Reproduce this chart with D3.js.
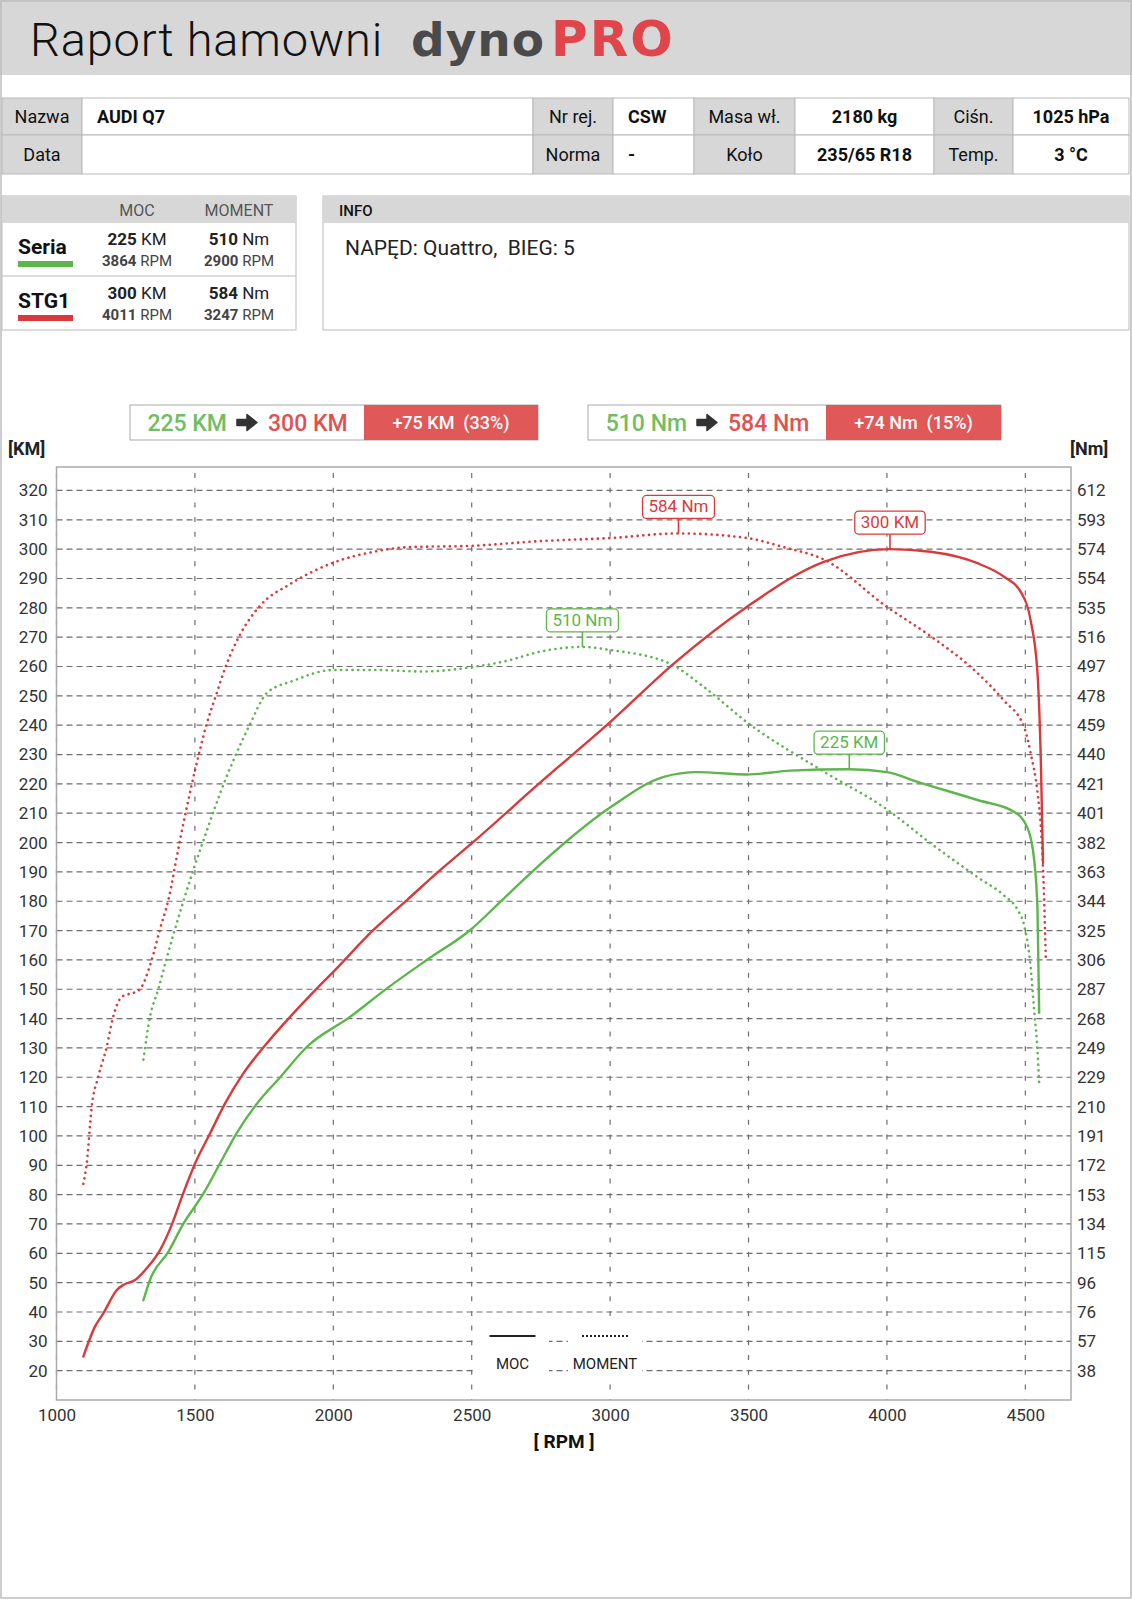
<!DOCTYPE html>
<html>
<head>
<meta charset="utf-8">
<script src="https://cdn.jsdelivr.net/npm/d3@7"></script>
<style>
  body { margin: 0; background: #fff; }
  svg text { font-family: Roboto, "Noto Sans", sans-serif; }
</style>
</head>
<body>
<div id="page"></div>
<script>
// chart values

const rpmTicks = [1000, 1500, 2000, 2500, 3000, 3500, 4000, 4500];
const kmTicks = [20, 30, 40, 50, 60, 70, 80, 90, 100, 110, 120, 130, 140, 150, 160,
  170, 180, 190, 200, 210, 220, 230, 240, 250, 260, 270, 280, 290, 300, 310, 320];
const nmTickLabels = ["38", "57", "76", "96", "115", "134", "153", "172", "191", "210",
  "229", "249", "268", "287", "306", "325", "344", "363", "382", "401", "421", "440",
  "459", "478", "497", "516", "535", "554", "574", "593", "612"];
const NM_PER_KM = 1.9125;

const runNames = ["Seria", "STG1"];
const maxPower = [225, 300];
const maxPowerRpm = [3864, 4011];
const maxTorque = [510, 584];
const maxTorqueRpm = [2900, 3247];

// Seria - moc [KM]
const seriaPowerRpm = [1314, 1338, 1404, 1458, 1531, 1591, 1651, 1724, 1808, 1905, 2061, 2194,
  2338, 2495, 2610, 2712, 3001, 3194, 3315, 3495, 3652, 3864, 4001, 4110, 4327, 4459, 4508,
  4532, 4544, 4550];
const seriaPower = [44, 51, 60.5, 70, 80.4, 90.7, 101, 111, 120, 130.4, 140.6, 150.3,
  160, 170.2, 180.4, 189.5, 212, 222.4, 224, 223.2, 224.5, 225, 224, 220.7, 214.5, 210.5, 205,
  194, 177, 142];
// Seria - moment [Nm]
const seriaTorqueRpm = [1314, 1338, 1368, 1398, 1428, 1458, 1495, 1531, 1609, 1651, 1700, 1760,
  1856, 2001, 2145, 2326, 2507, 2628, 2748, 2900, 3001, 3218, 3338, 3501, 3760, 4001, 4158,
  4327, 4423, 4471, 4495, 4519, 4532, 4544, 4550];
const seriaTorque = [241, 269, 287, 307, 326, 344, 365, 384, 423, 441, 460, 480,
  488, 495, 495, 494, 497, 501, 507, 510, 508, 499, 484, 460, 430, 404, 382,
  360, 348, 339, 329, 302, 273, 247, 225];

// STG1 - moc [KM]
const stg1PowerRpm = [1097, 1139, 1169, 1218, 1241, 1284, 1326, 1374, 1416, 1458, 1501, 1555,
  1609, 1675, 1760, 1844, 1941, 2001, 2145, 2266, 2386, 2507, 2748, 2995, 3230, 3495, 3772,
  4011, 4158, 4327, 4423, 4483, 4519, 4544, 4556, 4564];
const stg1Power = [24.8, 35, 39.5, 47.5, 49.2, 50.9, 54.9, 61.1, 69.6, 80.5, 90.7, 100.9,
  111.1, 121.3, 131.6, 140.6, 150.3, 156, 170.2, 180.4, 190.6, 200.3, 220.5, 240.6, 261, 280.4, 295.7,
  300, 299.1, 295.2, 290.6, 285.5, 275.8, 257.7, 228, 193];
// STG1 - moment [Nm]
const stg1TorqueRpm = [1097, 1109, 1127, 1151, 1181, 1205, 1236, 1284, 1302, 1344, 1374, 1404,
  1446, 1501, 1543, 1579, 1615, 1663, 1736, 1844, 2001, 2145, 2266, 2507, 2748, 3001, 3247,
  3495, 3628, 3772, 4001, 4158, 4327, 4423, 4495, 4519, 4544, 4556, 4568, 4574];
const stg1Torque = [160, 173, 210, 230, 249, 269, 282, 285, 287, 306, 326, 345,
  384, 430, 460, 480, 499, 518, 537, 551, 565, 572, 575, 576, 579, 581, 584,
  581, 575, 567, 536, 517, 493, 475, 458, 441, 415, 393, 345, 306];

const infoLabels1 = ["Nazwa", "Nr rej.", "Masa wł.", "Ciśn."];
const infoValues1 = ["AUDI Q7", "CSW", "2180 kg", "1025 hPa"];
const infoLabels2 = ["Data", "Norma", "Koło", "Temp."];
const infoValues2 = ["", "-", "235/65 R18", "3 °C"];
const infoText = "NAPĘD: Quattro,  BIEG: 5";

// ---------------------------------------------------------------

const W = 1132;
const H = 1600;
const red = "#d83a3c";
const green = "#5cb64c";
const redText = "#df5252";
const greenText = "#72bd63";
const grayFill = "#d7d7d7";
const lineGray = "#b9b9b9";

const svg = d3.select("#page")
    .append("svg")
    .attr("width", W)
    .attr("height", H);

svg.append("rect")
    .attr("x", 0).attr("y", 0)
    .attr("width", W).attr("height", H)
    .attr("fill", "#fff");

// header
svg.append("rect")
    .attr("x", 0).attr("y", 0)
    .attr("width", W).attr("height", 75)
    .attr("fill", grayFill);

svg.append("text")
    .attr("x", 30).attr("y", 56)
    .attr("font-size", 47)
    .attr("font-weight", 300)
    .attr("letter-spacing", 0.8)
    .attr("fill", "#111")
    .text("Raport hamowni");

const logo = svg.append("text")
    .attr("x", 411).attr("y", 56)
    .attr("font-size", 47)
    .attr("font-weight", "bold")
    .style("font-family", "'DejaVu Sans', sans-serif");
logo.append("tspan").attr("fill", "#4a4a4a").attr("letter-spacing", 1).text("dyno");
logo.append("tspan").attr("fill", "#e0454b").attr("dx", 6)
    .attr("font-size", 50).attr("letter-spacing", 2).text("PRO");

// info table
const colEdges = [2, 82, 533, 613, 694, 795, 934, 1013, 1129];
const rowEdges = [98, 135, 174];
const tableRows = [[infoLabels1, infoValues1], [infoLabels2, infoValues2]];

tableRows.forEach(function(row, r) {
  const y0 = rowEdges[r], y1 = rowEdges[r + 1];
  for (let c = 0; c < 8; c++) {
    const isLabel = c % 2 == 0;
    const x0 = colEdges[c], x1 = colEdges[c + 1];
    svg.append("rect")
        .attr("x", x0).attr("y", y0)
        .attr("width", x1 - x0).attr("height", y1 - y0)
        .attr("fill", isLabel ? grayFill : "#fff")
        .attr("stroke", lineGray);
    const txt = isLabel ? row[0][c / 2] : row[1][(c - 1) / 2];
    const leftAlign = !isLabel && c < 4;
    svg.append("text")
        .attr("x", leftAlign ? x0 + 15 : (x0 + x1) / 2)
        .attr("y", (y0 + y1) / 2 + 6.5)
        .attr("text-anchor", leftAlign ? "start" : "middle")
        .attr("font-size", 18)
        .attr("font-weight", isLabel ? 400 : 700)
        .attr("fill", "#111")
        .text(txt);
  }
});

// summary box
const sumX0 = 2, sumX1 = 296, sumY0 = 196, sumHead = 223, sumY1 = 330;
svg.append("rect")
    .attr("x", sumX0).attr("y", sumY0)
    .attr("width", sumX1 - sumX0).attr("height", sumY1 - sumY0)
    .attr("fill", "#fff").attr("stroke", lineGray);
svg.append("rect")
    .attr("x", sumX0).attr("y", sumY0)
    .attr("width", sumX1 - sumX0).attr("height", sumHead - sumY0)
    .attr("fill", grayFill);
svg.append("line")
    .attr("x1", sumX0).attr("x2", sumX1)
    .attr("y1", 276).attr("y2", 276)
    .attr("stroke", lineGray);

const mocX = 137, momX = 239;
[["MOC", mocX], ["MOMENT", momX]].forEach(function(h) {
  svg.append("text")
      .attr("x", h[1]).attr("y", 216)
      .attr("text-anchor", "middle")
      .attr("font-size", 16)
      .attr("fill", "#555")
      .text(h[0]);
});

const runColors = [green, red];
runNames.forEach(function(name, i) {
  const base = 254 + i * 54;
  svg.append("text")
      .attr("x", 18).attr("y", base)
      .attr("font-size", 21)
      .attr("font-weight", 700)
      .attr("fill", "#111")
      .text(name);
  svg.append("rect")
      .attr("x", 18).attr("y", base + 7)
      .attr("width", 55).attr("height", 6)
      .attr("fill", runColors[i]);

  const cells = [
    [mocX, maxPower[i], " KM", maxPowerRpm[i]],
    [momX, maxTorque[i], " Nm", maxTorqueRpm[i]]
  ];
  cells.forEach(function(cell) {
    const t1 = svg.append("text")
        .attr("x", cell[0]).attr("y", base - 9)
        .attr("text-anchor", "middle")
        .attr("font-size", 17)
        .attr("fill", "#222");
    t1.append("tspan").attr("font-weight", 700).text(cell[1]);
    t1.append("tspan").text(cell[2]);
    const t2 = svg.append("text")
        .attr("x", cell[0]).attr("y", base + 12)
        .attr("text-anchor", "middle")
        .attr("font-size", 15)
        .attr("fill", "#444");
    t2.append("tspan").attr("font-weight", 700).text(cell[3]);
    t2.append("tspan").text(" RPM");
  });
});

// info box
svg.append("rect")
    .attr("x", 323).attr("y", sumY0)
    .attr("width", 1129 - 323).attr("height", sumY1 - sumY0)
    .attr("fill", "#fff").attr("stroke", lineGray);
svg.append("rect")
    .attr("x", 323).attr("y", sumY0)
    .attr("width", 1129 - 323).attr("height", sumHead - sumY0)
    .attr("fill", grayFill);
svg.append("text")
    .attr("x", 339).attr("y", 216)
    .attr("font-size", 15)
    .attr("font-weight", 500)
    .attr("fill", "#111")
    .text("INFO");
svg.append("text")
    .attr("x", 345).attr("y", 255)
    .attr("font-size", 21)
    .attr("fill", "#222")
    .style("white-space", "pre")
    .text(infoText);

// comparison boxes
function compareBox(x0, xRed, x1, before, after, unit) {
  const y0 = 405, y1 = 440;
  const gain = after - before;
  const pct = Math.round(gain / before * 100);
  svg.append("rect")
      .attr("x", x0).attr("y", y0)
      .attr("width", x1 - x0).attr("height", y1 - y0)
      .attr("fill", "#fff").attr("stroke", "#aaa");
  svg.append("rect")
      .attr("x", xRed).attr("y", y0)
      .attr("width", x1 - xRed).attr("height", y1 - y0)
      .attr("fill", "#e05858");
  const mid = (x0 + xRed) / 2;
  svg.append("text")
      .attr("x", mid - 20).attr("y", y0 + 26)
      .attr("text-anchor", "end")
      .attr("font-size", 23)
      .attr("font-weight", 500)
      .attr("fill", greenText)
      .text(before + " " + unit);
  svg.append("text")
      .attr("x", mid + 21).attr("y", y0 + 26)
      .attr("text-anchor", "start")
      .attr("font-size", 23)
      .attr("font-weight", 500)
      .attr("fill", redText)
      .text(after + " " + unit);
  // arrow
  const ax = mid, ay = y0 + 17.5;
  svg.append("path")
      .attr("d", `M${ax - 10},${ay - 3} L${ax},${ay - 3} L${ax},${ay - 8} L${ax + 10},${ay} L${ax},${ay + 8} L${ax},${ay + 3} L${ax - 10},${ay + 3} Z`)
      .attr("fill", "#333")
      .attr("stroke", "#333")
      .attr("stroke-linejoin", "round")
      .attr("stroke-width", 1.5);
  svg.append("text")
      .attr("x", (xRed + x1) / 2).attr("y", y0 + 24)
      .attr("text-anchor", "middle")
      .attr("font-size", 18)
      .attr("font-weight", 500)
      .attr("fill", "#fff")
      .style("white-space", "pre")
      .text(`+${gain} ${unit}  (${pct}%)`);
}
compareBox(130, 364, 538, maxPower[0], maxPower[1], "KM");
compareBox(588, 826, 1001, maxTorque[0], maxTorque[1], "Nm");

// chart
const plot = {left: 56.5, right: 1071, top: 467, bottom: 1400};

const xScale = d3.scaleLinear()
    .domain([1000, 4665])
    .range([plot.left, plot.right]);

const yKM = d3.scaleLinear()
    .domain([10, 328])
    .range([plot.bottom, plot.top]);

const yNm = d3.scaleLinear()
    .domain([10 * NM_PER_KM, 328 * NM_PER_KM])
    .range([plot.bottom, plot.top]);

svg.append("text")
    .attr("x", 8).attr("y", 455)
    .attr("font-size", 18).attr("font-weight", 700)
    .attr("fill", "#222")
    .text("[KM]");
svg.append("text")
    .attr("x", 1070).attr("y", 455)
    .attr("font-size", 18).attr("font-weight", 700)
    .attr("fill", "#222")
    .text("[Nm]");

const grid = svg.append("g").attr("class", "grid");

grid.selectAll("line.h")
    .data(kmTicks)
    .enter().append("line")
    .attr("class", "h")
    .attr("x1", plot.left).attr("x2", plot.right)
    .attr("y1", d => yKM(d)).attr("y2", d => yKM(d))
    .attr("stroke", "#6e6e6e")
    .attr("stroke-width", 1.2)
    .attr("stroke-dasharray", "6,4");

grid.selectAll("line.v")
    .data(rpmTicks)
    .enter().append("line")
    .attr("class", "v")
    .attr("x1", d => xScale(d)).attr("x2", d => xScale(d))
    .attr("y1", plot.top + 6).attr("y2", plot.bottom)
    .attr("stroke", "#6e6e6e")
    .attr("stroke-width", 1.2)
    .attr("stroke-dasharray", "5,9.7");

// frame
svg.append("rect")
    .attr("x", plot.left).attr("y", plot.top)
    .attr("width", plot.right - plot.left)
    .attr("height", plot.bottom - plot.top)
    .attr("fill", "none")
    .attr("stroke", "#aaa")
    .attr("stroke-width", 1.5);

// axes
const leftAxis = svg.append("g")
    .attr("transform", `translate(${plot.left},0)`)
    .call(d3.axisLeft(yKM).tickValues(kmTicks).tickSize(0).tickPadding(9));

const rightAxis = svg.append("g")
    .attr("transform", `translate(${plot.right},0)`)
    .call(d3.axisRight(yKM).tickValues(kmTicks).tickSize(0).tickPadding(6)
        .tickFormat((d, i) => nmTickLabels[i]));

const bottomAxis = svg.append("g")
    .attr("transform", `translate(0,${plot.bottom})`)
    .call(d3.axisBottom(xScale).tickValues(rpmTicks).tickSize(0).tickPadding(9)
        .tickFormat(d3.format("d")));

[leftAxis, rightAxis, bottomAxis].forEach(function(a) {
  a.select(".domain").remove();
  a.selectAll("text")
      .attr("font-size", 17)
      .attr("fill", "#333")
      .style("font-family", "Roboto, sans-serif");
});

svg.append("text")
    .attr("x", 564).attr("y", 1448)
    .attr("text-anchor", "middle")
    .attr("font-size", 19).attr("font-weight", 700)
    .attr("fill", "#111")
    .text("[ RPM ]");

// legend
const legendItems = [
  {label: "MOC", x0: 476, x1: 549, dash: null},
  {label: "MOMENT", x0: 568, x1: 642, dash: "2,2"}
];
legendItems.forEach(function(item) {
  svg.append("rect")
      .attr("x", item.x0).attr("y", 1322)
      .attr("width", item.x1 - item.x0).attr("height", 58)
      .attr("fill", "#fff");
  const cx = (item.x0 + item.x1) / 2;
  svg.append("line")
      .attr("x1", cx - 23).attr("x2", cx + 23)
      .attr("y1", 1336).attr("y2", 1336)
      .attr("stroke", "#222")
      .attr("stroke-width", item.dash ? 1.8 : 2.2)
      .attr("stroke-dasharray", item.dash);
  svg.append("text")
      .attr("x", cx).attr("y", 1369)
      .attr("text-anchor", "middle")
      .attr("font-size", 15)
      .attr("fill", "#222")
      .text(item.label);
});

// curves
const powerLine = d3.line()
    .x(d => xScale(d[0]))
    .y(d => yKM(d[1]))
    .curve(d3.curveMonotoneX);

const torqueLine = d3.line()
    .x(d => xScale(d[0]))
    .y(d => yNm(d[1]))
    .curve(d3.curveMonotoneX);

const curves = [
  {rpm: seriaTorqueRpm, val: seriaTorque, line: torqueLine, color: green, dotted: true},
  {rpm: stg1TorqueRpm, val: stg1Torque, line: torqueLine, color: red, dotted: true},
  {rpm: seriaPowerRpm, val: seriaPower, line: powerLine, color: green, dotted: false},
  {rpm: stg1PowerRpm, val: stg1Power, line: powerLine, color: red, dotted: false}
];

curves.forEach(function(c) {
  const pts = c.rpm.map((r, i) => [r, c.val[i]]);
  svg.append("path")
      .datum(pts)
      .attr("d", c.line)
      .attr("fill", "none")
      .attr("stroke", c.color)
      .attr("stroke-width", c.dotted ? 2.6 : 2.4)
      .attr("stroke-linecap", "round")
      .attr("stroke-linejoin", "round")
      .attr("stroke-dasharray", c.dotted ? "0.1,5.6" : null);
});

// peak labels
function peakLabel(px, py, text, color) {
  const g = svg.append("g");
  const boxH = 23;
  const boxBottom = py - 15;
  g.append("line")
      .attr("x1", px).attr("x2", px)
      .attr("y1", boxBottom).attr("y2", py)
      .attr("stroke", color)
      .attr("stroke-width", 1.6);
  const t = g.append("text")
      .attr("x", px).attr("y", boxBottom - 6)
      .attr("text-anchor", "middle")
      .attr("font-size", 17)
      .attr("fill", color)
      .text(text);
  const w = t.node().getComputedTextLength() + 12;
  g.insert("rect", "text")
      .attr("x", px - w / 2).attr("y", boxBottom - boxH)
      .attr("width", w).attr("height", boxH)
      .attr("rx", 4)
      .attr("fill", "#fff")
      .attr("stroke", color)
      .attr("stroke-width", 1.3);
}

runNames.forEach(function(name, i) {
  const color = i == 0 ? green : red;
  peakLabel(xScale(maxTorqueRpm[i]), yNm(maxTorque[i]), maxTorque[i] + " Nm", color);
  peakLabel(xScale(maxPowerRpm[i]), yKM(maxPower[i]), maxPower[i] + " KM", color);
});

// page border
svg.append("rect")
    .attr("x", 1).attr("y", 1)
    .attr("width", W - 2).attr("height", H - 3)
    .attr("fill", "none")
    .attr("stroke", "#bdbdbd")
    .attr("stroke-width", 1.5);
</script>
</body>
</html>
